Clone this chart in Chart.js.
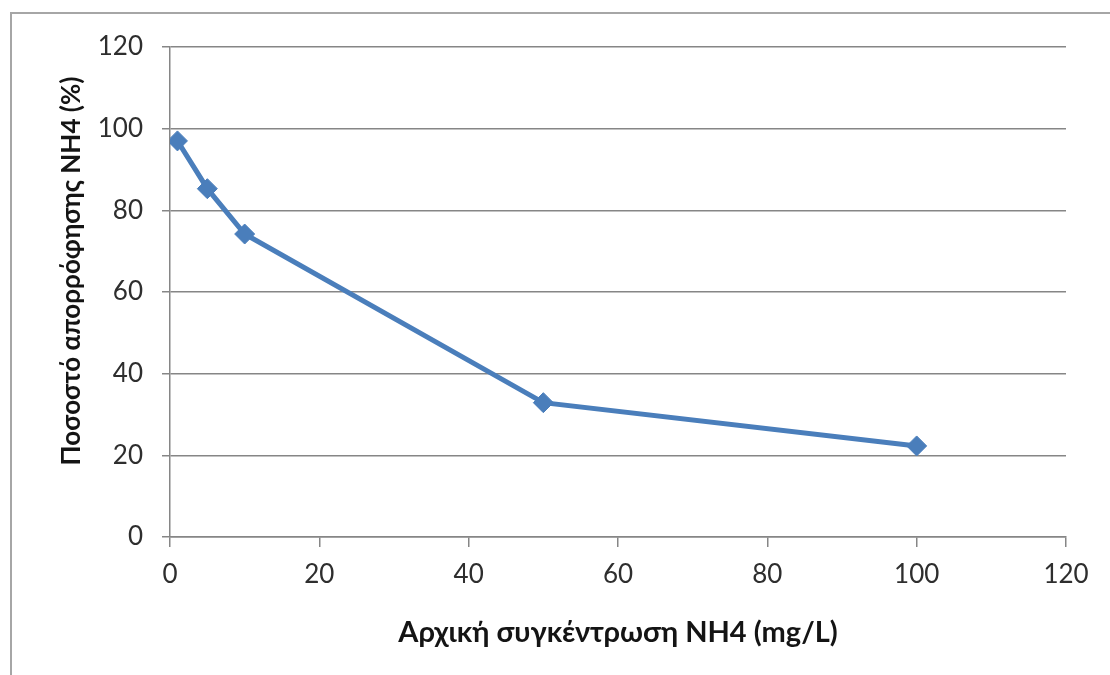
<!DOCTYPE html>
<html>
<head>
<meta charset="utf-8">
<script src="https://cdn.jsdelivr.net/npm/chart.js@4"></script>
<style>
  html, body { margin: 0; padding: 0; background: #ffffff; overflow: hidden; }
  #frame { position: absolute; left: 10px; top: 12px; width: 1300px; height: 900px;
           border: 2px solid #a6a6a6; box-sizing: border-box; }
  #wrap { position: absolute; left: 0; top: 0; width: 1110px; height: 675px; }
</style>
</head>
<body>
<div id="frame"></div>
<div id="wrap"><canvas id="c" width="1110" height="675"></canvas></div>
<script>
const xValues = [1, 5, 10, 50, 100];
const yValues = [97, 85.3, 74.2, 32.9, 22.3];
const xTitle = 'Αρχική συγκέντρωση NH4 (mg/L)';
const yTitle = 'Ποσοστό απορρόφησης NH4 (%)';
const axisMin = 0, axisMax = 120, axisStep = 20;

const FONT = 'Lato, "Open Sans", "Noto Sans", sans-serif';

const yTitlePlugin = {
  id: 'yTitle',
  afterDraw(chart) {
    const ctx = chart.ctx;
    ctx.save();
    ctx.translate(72, 271);
    ctx.rotate(-Math.PI / 2);
    ctx.font = 'bold 26px ' + FONT;
    ctx.fillStyle = '#141414';
    ctx.textAlign = 'center';
    ctx.textBaseline = 'middle';
    ctx.fillText(yTitle, 0, 0);
    ctx.restore();
  }
};

new Chart(document.getElementById('c'), {
  type: 'line',
  data: {
    datasets: [{
      data: xValues.map((x, i) => ({ x: x, y: yValues[i] })),
      borderColor: '#4a7ebb',
      backgroundColor: '#4a7ebb',
      borderWidth: 5,
      pointStyle: 'rectRot',
      pointRadius: 10,
      pointBorderWidth: 1,
      pointBorderColor: '#4a7ebb',
      pointBackgroundColor: '#4a7ebb',
      tension: 0,
      fill: false
    }]
  },
  options: {
    responsive: false,
    animation: false,
    layout: { padding: { left: 0, right: 44, top: 47, bottom: 0 } },
    plugins: { legend: { display: false }, tooltip: { enabled: false } },
    scales: {
      x: {
        type: 'linear',
        min: axisMin, max: axisMax,
        afterFit(scale) { scale.height = 138; },
        ticks: { stepSize: axisStep, padding: 12, color: '#2e2e2e', font: { family: FONT, size: 26 } },
        grid: { drawOnChartArea: false, drawTicks: true, tickLength: 10, color: '#868686', lineWidth: 1.5 },
        border: { color: '#868686', width: 1.5 },
        title: { display: true, text: xTitle, color: '#141414', font: { family: FONT, size: 29, weight: 'bold' }, padding: { top: 0, bottom: 25 } }
      },
      y: {
        min: axisMin, max: axisMax,
        afterFit(scale) { scale.width = 170; },
        ticks: { stepSize: axisStep, padding: 19, color: '#2e2e2e', font: { family: FONT, size: 26 } },
        grid: { drawTicks: true, tickLength: 8, color: '#868686', lineWidth: 1.5 },
        border: { color: '#868686', width: 1.5 }
      }
    }
  },
  plugins: [yTitlePlugin]
});
</script>
</body>
</html>
